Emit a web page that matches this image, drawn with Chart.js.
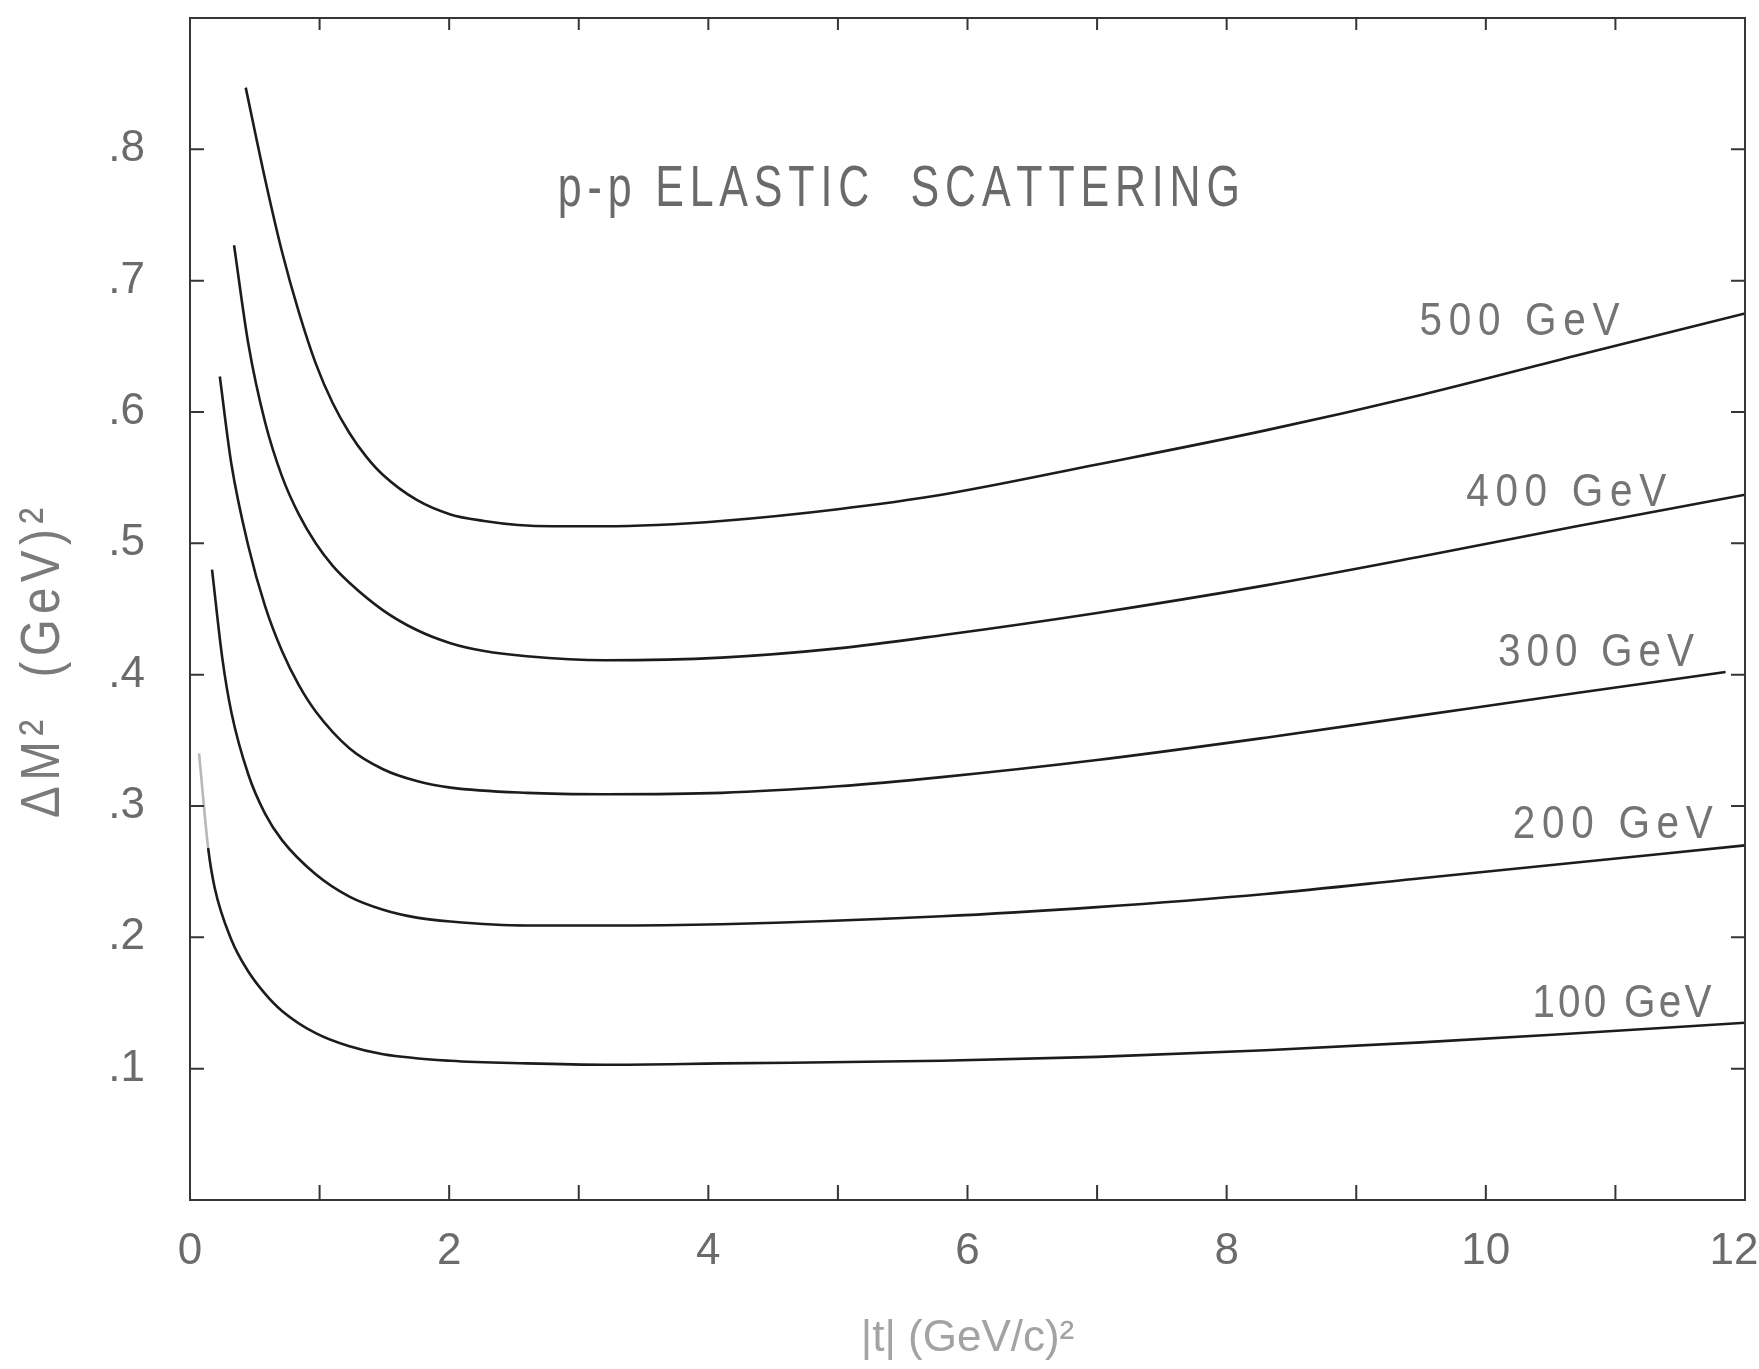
<!DOCTYPE html>
<html>
<head>
<meta charset="utf-8">
<title>p-p elastic scattering</title>
<script src="https://cdn.jsdelivr.net/npm/chart.js@4.4.1/dist/chart.umd.min.js"></script>
<style>
  html, body { margin: 0; padding: 0; background: #fff; }
  #wrap { width: 1759px; height: 1369px; }
</style>
</head>
<body>
<div id="wrap"><canvas id="chart" width="1759" height="1369"></canvas></div>
<script>
// Delta M^2 vs |t| for p-p elastic scattering, one curve per beam energy

const energies = ['500 GeV', '400 GeV', '300 GeV', '200 GeV', '100 GeV'];

const t500 = [0.43, 0.58, 0.71, 0.84, 0.97, 1.10, 1.23, 1.36, 1.49, 1.75, 2.01, 2.27, 2.53, 2.8, 3.2, 3.6, 4.1, 5.0, 5.8, 7.0, 8.3, 9.5, 10.7, 12.0];
const m500 = [0.847, 0.777, 0.722, 0.676, 0.637, 0.607, 0.584, 0.566, 0.552, 0.533, 0.522, 0.517, 0.514, 0.513, 0.513, 0.514, 0.517, 0.526, 0.537, 0.560, 0.586, 0.613, 0.643, 0.675];

const t400 = [0.34, 0.45, 0.58, 0.71, 0.84, 0.97, 1.10, 1.23, 1.49, 1.75, 2.01, 2.27, 2.6, 3.2, 4.1, 5.0, 5.8, 7.0, 8.3, 9.5, 10.7, 12.0];
const m400 = [0.727, 0.652, 0.592, 0.551, 0.522, 0.500, 0.483, 0.470, 0.449, 0.434, 0.424, 0.418, 0.414, 0.411, 0.413, 0.420, 0.430, 0.447, 0.468, 0.490, 0.513, 0.537];

const t300 = [0.23, 0.32, 0.45, 0.58, 0.71, 0.84, 0.97, 1.23, 1.49, 1.75, 2.01, 2.6, 3.2, 4.1, 5.0, 5.8, 7.0, 8.3, 9.5, 10.7, 11.85];
const m300 = [0.627, 0.560, 0.498, 0.452, 0.418, 0.392, 0.372, 0.344, 0.328, 0.319, 0.314, 0.310, 0.309, 0.310, 0.315, 0.322, 0.335, 0.352, 0.369, 0.386, 0.402];

const t200 = [0.17, 0.25, 0.32, 0.45, 0.58, 0.71, 0.97, 1.23, 1.49, 1.75, 2.01, 2.6, 3.2, 4.1, 5.8, 7.0, 8.3, 9.5, 10.7, 12.0];
const m200 = [0.480, 0.412, 0.371, 0.324, 0.294, 0.274, 0.248, 0.231, 0.221, 0.215, 0.212, 0.209, 0.209, 0.210, 0.216, 0.223, 0.233, 0.245, 0.257, 0.270];

const t100 = [0.07, 0.14, 0.19, 0.32, 0.45, 0.58, 0.71, 0.97, 1.23, 1.49, 2.01, 2.6, 3.2, 4.1, 5.8, 7.0, 8.3, 9.5, 10.7, 12.0];
const m100 = [0.340, 0.268, 0.238, 0.198, 0.174, 0.157, 0.144, 0.127, 0.117, 0.111, 0.106, 0.104, 0.103, 0.104, 0.106, 0.109, 0.114, 0.120, 0.127, 0.135];

const tSeries = [t500, t400, t300, t200, t100];
const mSeries = [m500, m400, m300, m200, m100];

// where each energy tag sits, in (|t|, dM^2) units
const labelT = [10.26, 10.62, 10.85, 10.98, 11.05];
const labelV = [0.668, 0.538, 0.416, 0.285, 0.149];
const labelW = [200, 200, 196, 200, 179];

const plotTitle = 'p-p ELASTIC  SCATTERING';
const xTitle = '|t| (GeV/c)\u00B2';
const yTitle = '\u0394M\u00B2  (GeV)\u00B2';

const FONT = "'Liberation Sans', Arial, sans-serif";

// typewriter-ish lettering: squeeze each glyph and spread them over a fixed width
function spacedText(ctx, text, cx, cy, size, color, width, squeeze) {
  const chars = [...text];
  ctx.font = size + 'px ' + FONT;
  const ws = chars.map(c => ctx.measureText(c).width * squeeze);
  const natural = ws.reduce((a, b) => a + b, 0);
  const gap = (width - natural) / (chars.length - 1);
  let x = cx - width / 2;
  ctx.fillStyle = color;
  ctx.textAlign = 'left';
  ctx.textBaseline = 'middle';
  chars.forEach((c, i) => {
    ctx.save();
    ctx.translate(x, cy);
    ctx.scale(squeeze, 1);
    ctx.fillText(c, 0, 0);
    ctx.restore();
    x += ws[i] + gap;
  });
}

const frameAndText = {
  id: 'frameAndText',
  afterDatasetsDraw(chart) {
    const { ctx, chartArea: a, scales: { x, y } } = chart;
    ctx.save();
    ctx.strokeStyle = '#363636';
    ctx.lineWidth = 2;
    ctx.strokeRect(a.left, a.top, a.width, a.height);

    // inward tick marks on all four sides
    ctx.beginPath();
    x.ticks.forEach(tk => {
      if (tk.value <= 0 || tk.value >= 12) return;
      const px = x.getPixelForValue(tk.value);
      ctx.moveTo(px, a.bottom); ctx.lineTo(px, a.bottom - 15);
      ctx.moveTo(px, a.top); ctx.lineTo(px, a.top + 12);
    });
    y.ticks.forEach(tk => {
      const k = Math.round(tk.value * 10);
      if (k < 1 || k > 8) return;
      const py = y.getPixelForValue(tk.value);
      ctx.moveTo(a.left, py); ctx.lineTo(a.left + 14, py);
      ctx.moveTo(a.right, py); ctx.lineTo(a.right - 14, py);
    });
    ctx.stroke();

    // energy tags
    energies.forEach((name, i) => {
      spacedText(ctx, name, x.getPixelForValue(labelT[i]), y.getPixelForValue(labelV[i]),
        46, '#747474', labelW[i], 0.88);
    });

    // title inside the frame
    spacedText(ctx, plotTitle, x.getPixelForValue(5.47), y.getPixelForValue(0.769),
      58, '#6a6a6a', 682, 0.74);

    // rotated y-axis title
    ctx.translate(44, 663);
    ctx.rotate(-Math.PI / 2);
    spacedText(ctx, yTitle, 0, 0, 56, '#7a7a7a', 310, 0.85);
    ctx.restore();
  }
};

const datasets = energies.map((name, i) => ({
  label: name,
  data: tSeries[i].map((t, j) => ({ x: t, y: mSeries[i][j] })),
  borderColor: '#1c1c1c',
  borderWidth: 2.6,
  pointRadius: 0,
  fill: false,
  cubicInterpolationMode: 'monotone',
  segment: {
    // the 100 GeV curve fades out at its very top
    borderColor: c => (i === 4 && c.p0DataIndex === 0) ? '#b8b8b8' : undefined
  }
}));

new Chart(document.getElementById('chart').getContext('2d'), {
  type: 'line',
  data: { datasets },
  options: {
    responsive: false,
    animation: false,
    devicePixelRatio: 1,
    layout: { padding: { top: 18, right: 14, left: 0, bottom: 0 } },
    plugins: {
      legend: { display: false },
      tooltip: { enabled: false }
    },
    scales: {
      x: {
        type: 'linear',
        min: 0,
        max: 12,
        grid: { display: false, drawTicks: false },
        border: { display: false },
        ticks: {
          stepSize: 1,
          autoSkip: false,
          maxRotation: 0,
          padding: 25,
          color: '#6b6b6b',
          font: { family: FONT, size: 44 },
          // the last label is nudged left so it stays on the page
          callback: v => (v % 2 !== 0 ? '' : (v === 12 ? '12\u2002' : String(v)))
        },
        title: {
          display: true,
          text: xTitle,
          color: '#a3a3a3',
          font: { family: FONT, size: 44 },
          padding: { top: 0, bottom: 4 }
        },
        afterFit(scale) {
          scale.height = 169;
          scale.paddingLeft = 0;
          scale.paddingRight = 0;
        }
      },
      y: {
        type: 'linear',
        min: 0,
        max: 0.9,
        grid: { display: false, drawTicks: false },
        border: { display: false },
        ticks: {
          stepSize: 0.1,
          autoSkip: false,
          padding: 45,
          color: '#6b6b6b',
          font: { family: FONT, size: 44 },
          callback: v => {
            const k = Math.round(v * 10);
            return (k >= 1 && k <= 8) ? '.' + k : '';
          }
        },
        afterFit(scale) {
          scale.width = 190;
          scale.paddingTop = 0;
          scale.paddingBottom = 0;
        }
      }
    }
  },
  plugins: [frameAndText]
});
</script>
</body>
</html>
